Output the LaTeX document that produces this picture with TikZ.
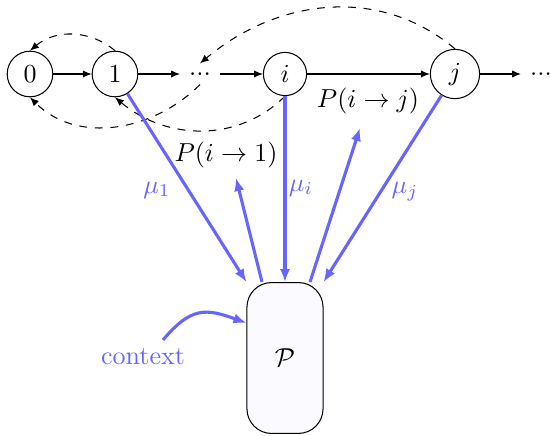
\documentclass[tikz,border=0pt]{standalone}
\usetikzlibrary{arrows.meta,calc}
\begin{document}
\begin{tikzpicture}[x=0.385pt,y=-0.385pt,
  state/.style={circle,draw,inner sep=0.333em},
  flow/.style={-{Latex[length=3.4pt,width=2.8pt]}},
  ret/.style={dashed,-{Latex[length=3.4pt,width=2.8pt]}},
  mu/.style={draw=blue!60,line width=1.2pt,-{Latex[length=5pt,width=4pt]}},
  lbl/.style={text=blue!60},
  policy/.style={draw,rounded corners=9.5pt,fill=blue!2,minimum width=29.3pt,minimum height=58.1pt}]
\useasboundingbox (0,0) rectangle (550,436);
\node[state] (n0) at (30,74) {$0$};
\node[state] (n1) at (115,74) {$1$};
\node (d1) at (200,74) {...};
\node[state] (ni) at (285,74) {$i$};
\node[state] (nj) at (455,74) {$j$};
\node (d2) at (541,74) {...};
\node[policy] (P) at (285,358) {$\mathcal{P}$};
\node[lbl] (m1) at (157,190) {$\mu_1$};
\node[lbl] (mi) at (301,188) {$\mu_i$};
\node[lbl] (mj) at (405,192) {$\mu_j$};
\node (p1) at (226,155) {$P(i\to 1)$};
\node (pj) at (368,101) {$P(i\to j)$};
\node[lbl] (ctx) at (143,357) {context};
\coordinate (t1) at (236,178);
\coordinate (tj) at (360,128);
\coordinate (c0) at (163,340);
\draw[flow] (n0) -- (n1);
\draw[flow] (n1) -- (d1);
\draw[flow] (d1) -- (ni);
\draw[flow] (ni) -- (nj);
\draw[flow] (nj) -- (d2);
\draw[ret] (n1.north) to[out=140,in=40] (n0.north);
\draw[ret] (nj.north) to[out=140,in=40] (d1.north);
\draw[ret] (d1.south) to[out=225,in=-45] (n0.south);
\draw[ret] (ni.south) to[out=225,in=-40] (n1.south);
\draw[mu] (n1) -- (P.north west);
\draw[mu] (ni) -- (P.north);
\draw[mu] (nj) -- (P.north east);
\draw[mu] ($(P.north)+(-23,0)$) -- (t1);
\draw[mu] ($(P.north)+(25,0)$) -- (tj);
\draw[mu] (c0) to[out=50,in=160,looseness=1.3] ($(P.west)+(0,-35)$);
\end{tikzpicture}
\end{document}
